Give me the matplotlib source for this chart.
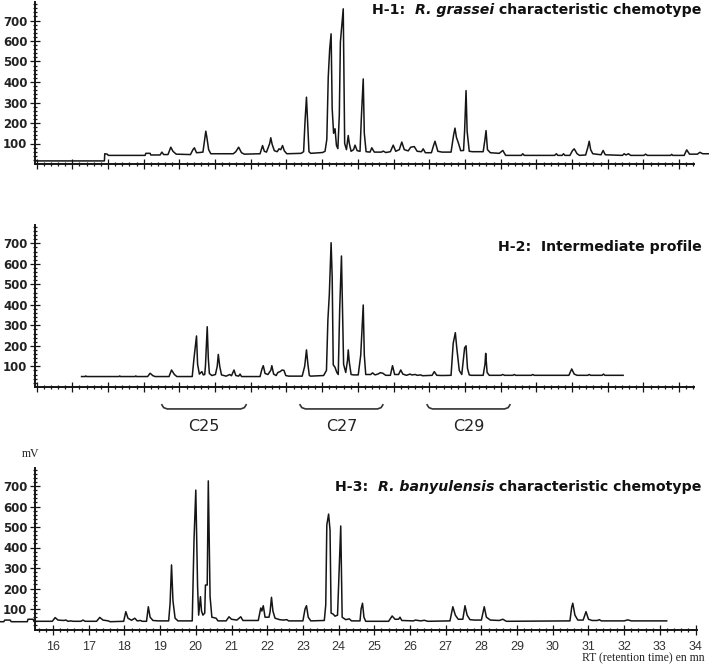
import numpy as np
import matplotlib
matplotlib.use('Agg')
import matplotlib.pyplot as plt
from matplotlib.ticker import FixedLocator, NullFormatter
import matplotlib.transforms as mtransforms

# traces: retention time (min) and signal (mV)
h1_rt = [15.55, 17.44, 17.45, 17.52, 17.55, 18.58, 18.6, 18.72, 18.74, 19.0, 19.05, 19.1,
         19.22, 19.3, 19.36, 19.45, 19.85, 19.92, 19.96, 20.02, 20.1, 20.2, 20.25, 20.28, 20.31, 20.36, 20.42,
         21.05, 21.12, 21.2, 21.28, 21.36, 21.8, 21.87, 21.92, 21.98, 22.07, 22.1, 22.14, 22.2, 22.28,
         22.33, 22.38, 22.43, 22.48, 22.55, 22.95, 23.02, 23.06, 23.1, 23.13, 23.17, 23.22,
         23.55, 23.62, 23.67, 23.71, 23.75, 23.79, 23.82, 23.86, 23.9, 23.94, 23.98, 24.02, 24.05, 24.13,
         24.17, 24.22, 24.27, 24.3, 24.35, 24.42, 24.46, 24.52, 24.6, 24.64, 24.69, 24.72, 24.77,
         24.88, 24.93, 25.0, 25.2, 25.25, 25.32, 25.45, 25.53, 25.6, 25.7, 25.77, 25.84, 25.95, 26.02,
         26.12, 26.2, 26.32, 26.37, 26.43, 26.6, 26.66, 26.7, 26.78, 26.9, 27.15, 27.22, 27.26, 27.3,
         27.36, 27.42, 27.5, 27.53, 27.57, 27.6, 27.66, 27.75, 28.05, 28.1, 28.13, 28.17, 28.25,
         28.5, 28.6, 28.68, 29.12, 29.16, 29.2, 30.05, 30.1, 30.14, 30.26, 30.3, 30.34,
         30.48, 30.55, 30.6, 30.68, 30.75, 30.92, 30.98, 31.02, 31.06, 31.12, 31.35, 31.41, 31.47,
         31.95, 32.0, 32.05, 32.12, 32.18, 32.55, 32.6, 32.65, 33.3, 33.33, 33.36,
         33.68, 33.75, 33.83, 34.05, 34.12, 34.2, 34.38]
h1_mv = [15, 15, 50, 48, 42, 42, 52, 52, 44, 44, 58, 46,
         46, 82, 62, 48, 46, 70, 79, 55, 56, 58, 120, 160, 130, 70, 50,
         50, 60, 82, 55, 48, 50, 90, 62, 58, 100, 128, 95, 65, 60,
         74, 70, 90, 64, 50, 52, 60, 210, 326, 210, 60, 52,
         56, 62, 120, 424, 560, 635, 270, 150, 172, 90, 75, 240, 595, 757,
         100, 70, 139, 100, 62, 70, 92, 65, 62, 236, 415, 150, 60,
         58, 79, 58, 58, 63, 56, 60, 92, 62, 70, 107, 70, 64, 82,
         85, 62, 60, 74, 55, 55, 90, 111, 62, 58, 58, 140, 175, 130,
         100, 65, 66, 163, 358, 160, 62, 60, 60, 120, 163, 70, 55,
         52, 66, 42, 42, 50, 42, 42, 50, 42, 42, 50, 42,
         42, 65, 74, 50, 42, 44, 80, 111, 70, 50, 45, 66, 45,
         42, 50, 44, 50, 42, 42, 48, 42, 42, 47, 42,
         42, 69, 48, 48, 57, 50, 50]

h2_rt = [16.8, 16.9, 16.92, 16.94, 17.85, 17.87, 17.89, 18.3, 18.32, 18.34,
         18.65, 18.72, 18.8, 18.86, 19.25, 19.32, 19.4, 19.47,
         19.9, 19.95, 20.02, 20.05, 20.1, 20.17, 20.21, 20.25, 20.27, 20.32, 20.35, 20.38, 20.45,
         20.55, 20.6, 20.63, 20.67, 20.72, 20.85, 20.95, 21.0, 21.07, 21.12, 21.2, 21.24, 21.28,
         21.8, 21.85, 21.89, 21.94, 22.02, 22.1, 22.13, 22.18, 22.25, 22.3, 22.36, 22.42, 22.47, 22.52, 22.6,
         22.98, 23.05, 23.1, 23.14, 23.18, 23.22,
         23.58, 23.66, 23.7, 23.74, 23.79, 23.82, 23.85, 23.9, 23.95, 23.99, 24.03, 24.08, 24.11, 24.14,
         24.2, 24.25, 24.27, 24.3, 24.35, 24.42, 24.55, 24.62, 24.69, 24.72, 24.76,
         24.9, 24.95, 25.02, 25.1, 25.17, 25.24, 25.32, 25.45, 25.51, 25.57, 25.68, 25.74, 25.8, 25.9,
         26.0, 26.05, 26.15, 26.2, 26.3, 26.35, 26.62, 26.68, 26.75, 26.9,
         27.15, 27.21, 27.27, 27.31, 27.38, 27.45, 27.53, 27.57, 27.61, 27.66, 27.72,
         28.05, 28.1, 28.12, 28.16, 28.22, 28.55, 28.6, 28.65, 28.88, 28.92, 28.96, 29.4, 29.44, 29.48,
         30.45, 30.53, 30.6, 30.68, 30.98, 31.02, 31.06, 31.38, 31.42, 31.46, 31.97]
h2_mv = [50, 50, 53, 50, 50, 53, 50, 50, 53, 50,
         50, 66, 54, 50, 50, 82, 60, 50,
         50, 140, 248, 110, 62, 74, 58, 60, 100, 293, 140, 65, 55,
         60, 100, 158, 100, 58, 52, 60, 54, 82, 55, 52, 62, 50,
         50, 85, 103, 65, 60, 80, 103, 62, 55, 70, 74, 82, 80, 55, 52,
         52, 100, 180, 110, 55, 52,
         55, 80, 326, 450, 703, 537, 107, 95, 70, 60, 375, 638, 375, 110,
         70, 130, 180, 120, 60, 58, 58, 155, 399, 155, 60,
         60, 68, 58, 62, 69, 66, 56, 56, 103, 60, 60, 82, 62, 56,
         62, 58, 60, 56, 58, 54, 56, 74, 56, 55,
         56, 212, 264, 190, 80, 60, 190, 200, 90, 58, 56,
         56, 110, 163, 70, 56, 56, 60, 56, 56, 60, 56, 56, 60, 56,
         56, 87, 62, 56, 56, 60, 56, 56, 62, 56, 56]

h3_rt = [14.52, 14.62, 14.65, 14.8, 14.83, 15.28, 15.3, 15.44, 15.47,
         15.98, 16.06, 16.14, 16.3, 16.36, 16.42, 16.5, 16.56, 16.78, 16.84, 16.9,
         17.22, 17.31, 17.4, 17.55, 17.6, 17.98, 18.04, 18.1, 18.2, 18.29, 18.36, 18.45, 18.5,
         18.62, 18.67, 18.72, 18.8, 18.95, 19.24, 19.28, 19.32, 19.36, 19.42, 19.5,
         19.9, 19.95, 20.0, 20.05, 20.08, 20.13, 20.16, 20.2, 20.25, 20.27, 20.32, 20.35, 20.4, 20.45, 20.57, 20.62,
         20.85, 20.93, 21.0, 21.15, 21.26, 21.32,
         21.75, 21.82, 21.85, 21.89, 21.94, 22.05, 22.08, 22.12, 22.16, 22.22, 22.35, 22.45, 22.55, 22.6,
         23.0, 23.06, 23.1, 23.15, 23.22,
         23.6, 23.64, 23.67, 23.72, 23.76, 23.79, 23.85, 23.9, 23.97, 24.0, 24.06, 24.1, 24.2, 24.3, 24.36,
         24.6, 24.63, 24.67, 24.71, 24.76,
         25.4, 25.5, 25.58, 25.68, 25.72, 25.77, 26.1, 26.15, 26.3, 26.4, 26.5,
         27.12, 27.2, 27.27, 27.35, 27.48, 27.54, 27.6, 27.68, 27.8, 28.0, 28.08, 28.14, 28.25, 28.5, 28.6, 28.7,
         30.48, 30.53, 30.56, 30.62, 30.7, 30.85, 30.93, 31.0, 31.1, 31.25, 31.3, 31.36, 32.0, 32.1, 32.2, 33.19]
h3_mv = [38, 38, 46, 46, 38, 38, 50, 50, 40,
         40, 58, 46, 44, 46, 40, 42, 40, 40, 46, 40,
         40, 59, 46, 42, 38, 40, 87, 55, 45, 55, 42, 44, 40,
         40, 111, 60, 44, 42, 42, 128, 315, 140, 55, 42,
         42, 437, 680, 209, 70, 160, 90, 70, 80, 217, 217, 725, 160, 60, 55, 42,
         42, 62, 50, 46, 62, 44,
         44, 105, 90, 116, 60, 60, 85, 157, 90, 55, 48, 46, 48, 42,
         42, 100, 116, 60, 42,
         44, 120, 510, 563, 485, 80, 75, 65, 70, 217, 505, 60, 48, 52, 42,
         42, 100, 128, 60, 40,
         40, 66, 50, 50, 60, 44, 42, 46, 42, 45, 40,
         42, 111, 70, 50, 50, 116, 70, 48, 46, 46, 111, 60, 46, 44, 50, 40,
         42, 110, 128, 70, 46, 46, 87, 50, 44, 44, 48, 42, 42, 47, 42, 42]

y_ticks = [100, 200, 300, 400, 500, 600, 700]
rt_labels = list(range(16, 35))
groups = ['C25', 'C27', 'C29']
group_spans = [(19.05, 21.41), (22.92, 25.24), (26.48, 28.8)]

W, H = 709, 666
fig = plt.figure(figsize=(W / 100, H / 100), dpi=100)
ink = '#151515'

t0 = 16 - 53 / 35.7
t1 = 16 + (W - 53) / 35.7


def panel(y0_px, rt, mv, labelled, major_off, x_end):
    ax = fig.add_axes([0, 1 - y0_px / H, 1, 164 / H])
    ax.patch.set_alpha(0)
    ax.plot(rt, mv, color=ink, lw=1.1, clip_on=False)
    ax.set_xlim(t0, t1)
    ax.set_ylim(0, 800)
    for s in ['top', 'right']:
        ax.spines[s].set_visible(False)
    ax.spines['left'].set_position(('data', 15.5))
    ax.spines['left'].set_bounds(0, 790)
    ax.spines['bottom'].set_bounds(15.5, x_end)
    for s in ['left', 'bottom']:
        ax.spines[s].set_linewidth(1.4)
        ax.spines[s].set_color(ink)

    ax.yaxis.set_major_locator(FixedLocator(y_ticks))
    ax.yaxis.set_minor_locator(FixedLocator(np.arange(20, 790, 20)))
    ax.set_yticklabels([str(v) for v in y_ticks], fontsize=8.5, fontweight='bold', color='#222')

    majors = np.arange(15.5 + major_off, x_end + 0.01, 1.0)
    minors = np.arange(15.5 + major_off - 0.8, x_end + 0.01, 0.2)
    ax.xaxis.set_major_locator(FixedLocator(majors))
    ax.xaxis.set_minor_locator(FixedLocator(minors[minors >= 15.55]))
    if labelled:
        ax.set_xticklabels([str(v) for v in rt_labels], fontsize=9,
                           family='Liberation Sans', color='#333')
    else:
        ax.xaxis.set_major_formatter(NullFormatter())
    ax.tick_params(which='both', direction='inout', color=ink, width=0.9)
    ax.tick_params(which='major', length=7, pad=2)
    ax.tick_params(axis='x', which='major', pad=5)
    ax.tick_params(which='minor', length=3.5)
    ax.set_xlim(t0, t1)
    return ax


def title(ax, y_px, parts):
    prev = fig.text(701.7 / W, 1 - y_px / H, parts[-1][0], ha='right', va='center',
                    fontsize=10.2, fontweight='bold', fontstyle=parts[-1][1], color='#111')
    for txt, style in reversed(parts[:-1]):
        prev = ax.annotate(txt, xy=(0, 0), xycoords=prev, ha='right', va='bottom',
                           fontsize=10.2, fontweight='bold', fontstyle=style, color='#111')


ax1 = panel(164, h1_rt, h1_mv, False, 0.04, 33.95)
ax2 = panel(386.8, h2_rt, h2_mv, False, 0.04, 33.95)
ax3 = panel(629.5, h3_rt, h3_mv, True, 0.5, 34.05)

title(ax1, 10, [('H-1:  ', 'normal'), ('R. grassei', 'italic'), (' characteristic chemotype', 'normal')])
title(ax2, 246.7, [('H-2:  Intermediate profile', 'normal')])
title(ax3, 486.7, [('H-3:  ', 'normal'), ('R. banyulensis', 'italic'), (' characteristic chemotype', 'normal')])

# chain-length brackets under the intermediate profile
tr = mtransforms.blended_transform_factory(ax2.transData, ax2.transAxes)
for name, (a, b) in zip(groups, group_spans):
    bx = [a, a + 0.05, a + 0.15, b - 0.15, b - 0.05, b]
    by = [-0.11, -0.127, -0.135, -0.135, -0.127, -0.11]
    ax2.plot(bx, by, color='#333', lw=1.2, transform=tr, clip_on=False)
    ax2.text((a + b) / 2, -0.245, name, transform=tr, ha='center', va='center',
             fontsize=11.5, color='#222')

fig.text(22 / W, 1 - 454 / H, 'mV', fontsize=8.5, family='Liberation Serif',
         ha='left', va='center', color='#222')
fig.text(705 / W, 1 - 658 / H, 'RT (retention time) en mn', fontsize=8.5,
         family='Liberation Serif', ha='right', va='center', color='#222')

fig.savefig('out.png', dpi=100)
